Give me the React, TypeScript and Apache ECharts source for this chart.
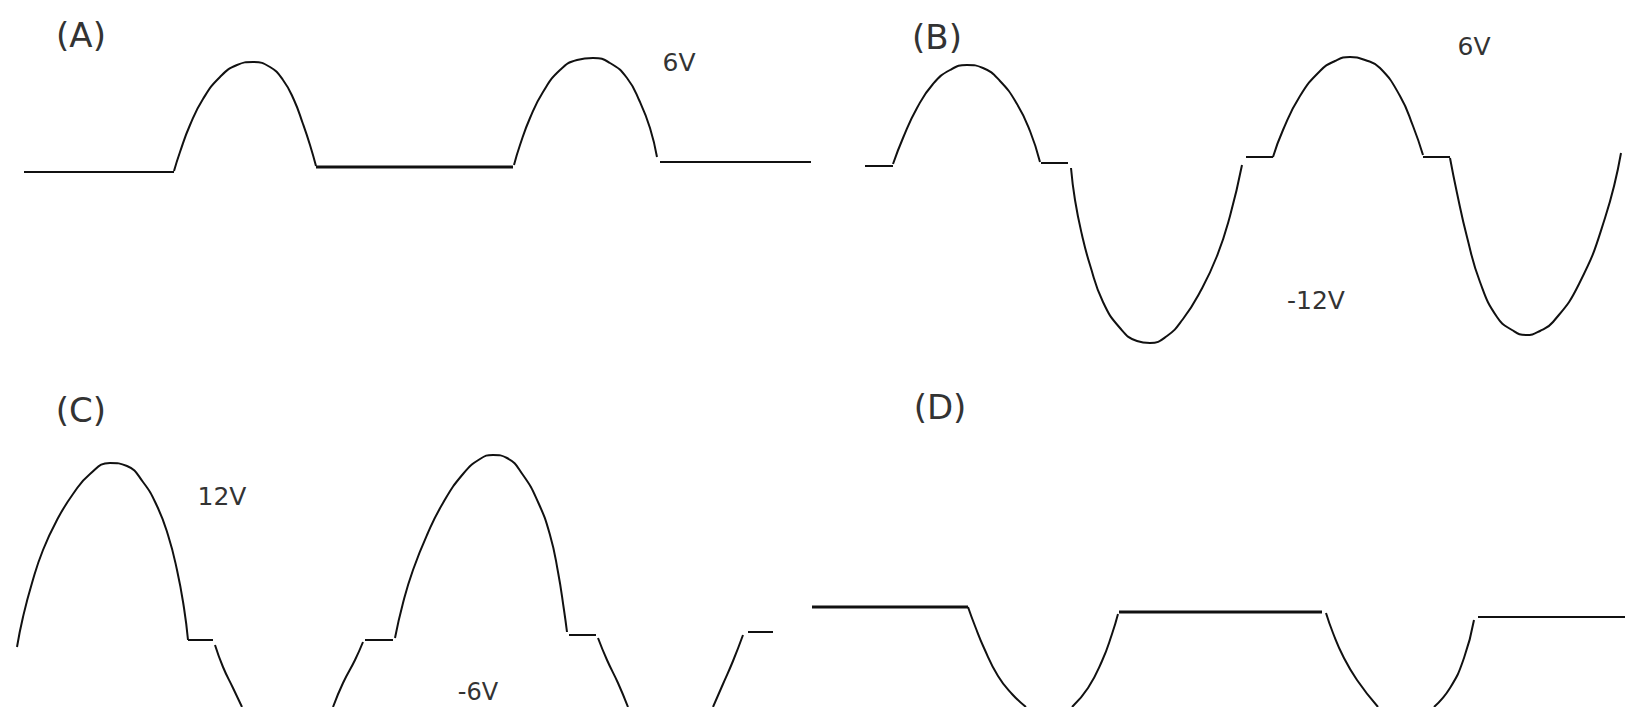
import React, { useEffect, useRef } from "react";
import * as echarts from "echarts";

type Pt = [number, number];

// Canvas-unit readings of each waveform (x to the right, y downward)
// Panel A
const aFlatLeft: Pt[] = [[24, 172], [174, 172]];
const aHump1: Pt[] = [[174, 171], [180, 152], [190, 125], [203, 99], [220, 77], [237, 65], [253, 62], [270, 67], [283, 80], [294, 100], [303, 124], [310, 145], [316, 166]];
const aFlatMid: Pt[] = [[316, 167], [513, 167]];
const aHump2: Pt[] = [[514, 165], [520, 145], [530, 118], [543, 92], [560, 70], [577, 60], [593, 58], [610, 63], [627, 78], [640, 102], [650, 128], [657, 157]];
const aFlatRight: Pt[] = [[660, 162], [811, 162]];

// Panel B
const bFlat1: Pt[] = [[865, 166], [893, 166]];
const bHump1: Pt[] = [[893, 164], [903, 138], [917, 108], [933, 84], [950, 70], [967, 65], [983, 68], [1000, 81], [1017, 104], [1030, 131], [1040, 162]];
const bFlat2: Pt[] = [[1041, 163], [1068, 163]];
const bTrough1: Pt[] = [[1071, 168], [1075, 200], [1082, 235], [1090, 265], [1103, 302], [1120, 328], [1137, 341], [1150, 343], [1167, 336], [1183, 319], [1200, 292], [1217, 256], [1230, 216], [1242, 165]];
const bFlat3: Pt[] = [[1246, 157], [1273, 157]];
const bHump2: Pt[] = [[1273, 157], [1283, 130], [1300, 96], [1320, 71], [1335, 61], [1350, 57], [1365, 60], [1380, 68], [1400, 96], [1413, 126], [1423, 155]];
const bFlat4: Pt[] = [[1423, 157], [1450, 157]];
const bTrough2: Pt[] = [[1450, 158], [1457, 193], [1467, 237], [1480, 282], [1497, 317], [1512, 330], [1526, 335], [1540, 331], [1553, 322], [1579, 284], [1605, 218], [1621, 153]];

// Panel C
const cArc1: Pt[] = [[17, 647], [23, 617], [32, 583], [43, 550], [57, 520], [73, 494], [90, 474], [110, 463], [127, 466], [143, 482], [157, 506], [168, 535], [177, 570], [184, 608], [188, 640]];
const cFlat1: Pt[] = [[188, 640], [213, 640]];
const cDrop1: Pt[] = [[215, 645], [223, 667], [233, 688], [242, 707]];
const cRise1: Pt[] = [[333, 707], [343, 683], [355, 660], [363, 642]];
const cFlat2: Pt[] = [[365, 640], [393, 640]];
const cHump: Pt[] = [[395, 638], [403, 603], [413, 570], [427, 535], [443, 503], [463, 474], [480, 459], [493, 455], [507, 458], [523, 475], [538, 502], [550, 535], [558, 572], [564, 610], [567, 632]];
const cFlat3: Pt[] = [[569, 635], [596, 635]];
const cDrop2: Pt[] = [[598, 638], [607, 660], [618, 683], [628, 707]];
const cRise2: Pt[] = [[713, 707], [723, 684], [733, 661], [743, 635]];
const cFlat4: Pt[] = [[748, 632], [773, 632]];

// Panel D
const dFlat1: Pt[] = [[812, 607], [968, 607]];
const dDrop1: Pt[] = [[968, 607], [975, 626], [984, 648], [998, 676], [1012, 694], [1026, 707]];
const dRise1: Pt[] = [[1072, 707], [1088, 688], [1102, 661], [1112, 634], [1118, 614]];
const dFlat2: Pt[] = [[1119, 612], [1322, 612]];
const dDrop2: Pt[] = [[1326, 613], [1333, 633], [1343, 656], [1357, 680], [1378, 707]];
const dRise2: Pt[] = [[1434, 707], [1450, 688], [1464, 658], [1474, 620]];
const dFlat3: Pt[] = [[1478, 617], [1625, 617]];

const panelLabels = ["(A)", "(B)", "(C)", "(D)"];
const voltLabels = ["6V", "6V", "-12V", "12V", "-6V"];

const thinSegments: Pt[][] = [
  aFlatLeft, aHump1, aHump2, aFlatRight,
  bFlat1, bHump1, bFlat2, bTrough1, bFlat3, bHump2, bFlat4, bTrough2,
  cArc1, cFlat1, cDrop1, cRise1, cFlat2, cHump, cFlat3, cDrop2, cRise2, cFlat4,
  dDrop1, dRise1, dDrop2, dRise2, dFlat3,
];
const thickSegments: Pt[][] = [aFlatMid, dFlat1, dFlat2];

const W = 1625;
const H = 707;

export default function App() {
  const ref = useRef<HTMLDivElement>(null);
  useEffect(() => {
    if (!ref.current) return;
    const chart = echarts.init(ref.current, null, { renderer: "svg" });
    const mkSeries = (data: Pt[], width: number) => ({
      type: "line",
      data,
      smooth: 0.5,
      showSymbol: false,
      symbol: "none",
      silent: true,
      lineStyle: { color: "#111", width },
    });
    const labelPos = [
      { x: 81, y: 35, size: 34 },
      { x: 937, y: 37, size: 34 },
      { x: 81, y: 410, size: 34 },
      { x: 940, y: 407, size: 34 },
    ];
    const voltPos = [
      { x: 679, y: 62, size: 25 },
      { x: 1474, y: 46, size: 25 },
      { x: 1316, y: 300, size: 25 },
      { x: 222, y: 496, size: 25 },
      { x: 478, y: 692, size: 24 },
    ];
    const texts = [
      ...panelLabels.map((t, i) => ({ t, ...labelPos[i] })),
      ...voltLabels.map((t, i) => ({ t, ...voltPos[i] })),
    ];
    chart.setOption({
      animation: false,
      backgroundColor: "#ffffff",
      grid: { left: 0, right: 0, top: 0, bottom: 0 },
      xAxis: { type: "value", min: 0, max: W, show: false },
      yAxis: { type: "value", min: 0, max: H, inverse: true, show: false },
      series: [
        ...thinSegments.map((s) => mkSeries(s, 2)),
        ...thickSegments.map((s) => mkSeries(s, 3.2)),
      ],
      graphic: texts.map((o) => ({
        type: "text",
        x: o.x,
        y: o.y,
        style: {
          text: o.t,
          fill: "#333",
          font: `${o.size}px "DejaVu Sans"`,
          align: "center",
          verticalAlign: "middle",
        },
      })),
    });
    return () => chart.dispose();
  }, []);
  return (
    <div
      ref={ref}
      style={{ position: "fixed", left: 0, top: 0, width: W, height: H, background: "#fff" }}
    />
  );
}
